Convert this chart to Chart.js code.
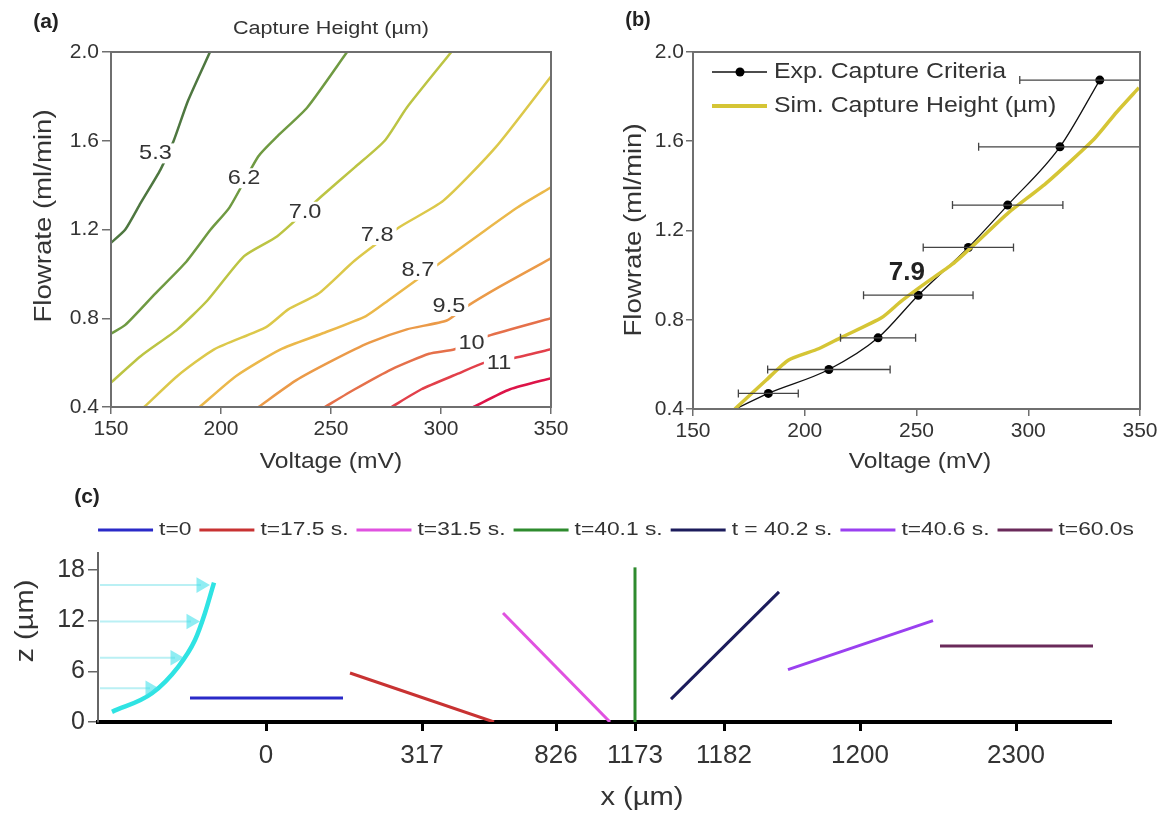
<!DOCTYPE html>
<html>
<head>
<meta charset="utf-8">
<title>Capture height</title>
<script src="https://cdn.jsdelivr.net/npm/chart.js@4.4.1/dist/chart.umd.min.js"></script>
<style>
  body { margin: 0; background: #fff; width: 1165px; height: 814px; position: relative; overflow: hidden; }
  canvas { position: absolute; }
  #panelA { left: 0; top: 0; }
  #panelB { left: 580px; top: 0; }
  #panelC { left: 0; top: 478px; }
</style>
</head>
<body>
<canvas id="panelA" width="580" height="478"></canvas>
<canvas id="panelB" width="585" height="478"></canvas>
<canvas id="panelC" width="1165" height="336"></canvas>
<script>
// ---- (a) capture height contours: [voltage mV, flowrate ml/min] ----
var contourLevels = ['5.3', '6.2', '7.0', '7.8', '8.7', '9.5', '10', '11', null];
var c53 = [[150, 1.14], [156.5, 1.20], [163.5, 1.32], [172.5, 1.47], [178.5, 1.60], [185, 1.78], [195, 2.0]];
var c62 = [[150, 0.73], [156.5, 0.77], [170, 0.91], [183.8, 1.05], [195.3, 1.20], [203.9, 1.30], [217, 1.53], [225.6, 1.62], [239.2, 1.75], [257.3, 2.0]];
var c70 = [[150, 0.51], [163.6, 0.63], [180.2, 0.75], [193.8, 0.88], [210.5, 1.08], [225.6, 1.17], [245.7, 1.35], [260.8, 1.48], [274.4, 1.60], [284.5, 1.75], [304.7, 2.0]];
var c78 = [[165.1, 0.4], [180.2, 0.54], [196.9, 0.66], [220.5, 0.76], [230.6, 0.84], [244.2, 0.91], [260.8, 1.06], [281, 1.21], [301.1, 1.33], [324.8, 1.57], [350, 1.89]];
var c87 = [[190.3, 0.4], [206.9, 0.54], [227.1, 0.66], [245.7, 0.73], [265.9, 0.81], [276, 0.88], [301.1, 1.06], [317.8, 1.18], [334.9, 1.30], [350, 1.39]];
var c95 = [[217, 0.4], [234.1, 0.52], [250.8, 0.61], [267.4, 0.69], [284.5, 0.75], [302.6, 0.79], [311.2, 0.85], [326.3, 0.94], [350, 1.07]];
var c10 = [[247.2, 0.4], [260.8, 0.48], [277.5, 0.57], [294.6, 0.64], [306.2, 0.66], [321.3, 0.72], [350, 0.80]];
var c11 = [[277.5, 0.4], [291.1, 0.48], [307.7, 0.55], [319.8, 0.60], [332.9, 0.62], [350, 0.66]];
var c12 = [[314.7, 0.4], [331.4, 0.48], [350, 0.53]];
var contourLines = [c53, c62, c70, c78, c87, c95, c10, c11, c12];
var contourLabelAt = [[170.2, 1.543], [210.5, 1.431], [238.2, 1.28], [271, 1.175], [289.5, 1.018], [303.6, 0.855], [313.9, 0.686], [326.4, 0.598]];
var contourColors = ['#4e7740', '#6f9a42', '#bcc443', '#dcc84a', '#ebb84a', '#eb9a48', '#e5704a', '#e2404a', '#dd1448'];

// ---- (b) experiment vs simulation ----
var expV   = [183.7, 210.8, 232.8, 250.8, 273.2, 290.8, 314.2, 332.0];
var expF   = [0.47, 0.577, 0.719, 0.91, 1.124, 1.314, 1.575, 1.874];
var expErr = [13.4, 27.4, 16.8, 24.5, 20.2, 24.7, 36.4, 35.8];
var fitStart = [169, 0.40];
var simV = [168.7, 182.8, 192.8, 206.2, 216.2, 234.5, 242.8, 252.8, 266.2, 276.2, 291.2, 307.8, 329.5, 339.5, 349.5];
var simF = [0.40, 0.53, 0.62, 0.67, 0.72, 0.81, 0.88, 0.955, 1.05, 1.14, 1.28, 1.41, 1.61, 1.73, 1.84];
var simLevel = [245.7, 1.009, '7.9'];

// ---- (c) particle snapshots along the channel: [position, z um] ----
var stationPos    = [16.8, 32.4, 45.8, 53.7, 62.6, 76.2, 91.8];
var stationLabels = ['0', '317', '826', '1173', '1182', '1200', '2300'];
var zTicks = [0, 6, 12, 18];
var snapLabels = ['t=0', 't=17.5 s.', 't=31.5 s.', 't=40.1 s.', 't = 40.2 s.', 't=40.6 s.', 't=60.0s'];
var snapColors = ['#2a2ac8', '#c83232', '#e052e0', '#2e8b2e', '#1c1c5c', '#9a40f0', '#6a2a5a'];
var snapLines = [
  [[9.2, 2.85], [24.5, 2.85]],
  [[25.2, 5.8], [39.6, 0]],
  [[40.5, 12.9], [51.2, 0]],
  [[53.7, 0], [53.7, 18.3]],
  [[57.3, 2.7], [68.1, 15.4]],
  [[69.0, 6.2], [83.5, 12.0]],
  [[84.2, 9.0], [99.5, 9.0]]
];
var flowProfile = [[1.4, 1.2], [5.4, 3.4], [8.0, 6.5], [9.7, 9.7], [10.7, 12.9], [11.6, 16.5]];
var arrowZ    = [16.2, 11.9, 7.6, 4.0];
var arrowTail = 0.2;
var arrowHead = [10.3, 9.3, 7.7, 5.2];

var FONT = '"Liberation Sans", Arial, Helvetica, sans-serif';
Chart.defaults.font.family = FONT;
Chart.defaults.color = '#333';
Chart.defaults.animation = false;

// text drawn with a horizontal stretch, optionally rotated
function drawText(ctx, t) {
  ctx.save();
  ctx.translate(t.x, t.y);
  if (t.rot) ctx.rotate(t.rot);
  ctx.scale(t.sx || 1, 1);
  ctx.font = t.font;
  ctx.fillStyle = t.color || '#333';
  ctx.textAlign = t.align || 'center';
  ctx.textBaseline = 'middle';
  ctx.fillText(t.text, 0, 0);
  ctx.restore();
}

function textPlugin(items) {
  return {
    id: 'panelText',
    afterDraw: function (chart) {
      items.forEach(function (t) { drawText(chart.ctx, t); });
    }
  };
}

function framePlugin(color, width) {
  return {
    id: 'frame',
    afterDatasetsDraw: function (chart) {
      var a = chart.chartArea, ctx = chart.ctx;
      ctx.save();
      ctx.strokeStyle = color;
      ctx.lineWidth = width;
      ctx.strokeRect(a.left, a.top, a.right - a.left, a.bottom - a.top);
      ctx.restore();
    }
  };
}

function axisOpts(min, max, step, size, tickLen, pad, fixed, isX) {
  return {
    type: 'linear', min: min, max: max,
    ticks: {
      stepSize: step, padding: pad, color: '#333',
      font: { size: size },
      callback: function (v) { return isX ? String(v) : v.toFixed(1); }
    },
    grid: { drawOnChartArea: false, tickLength: tickLen, color: '#6f6f6f', lineWidth: 1.5 },
    border: { color: '#6f6f6f', width: 2 },
    afterFit: function (s) { if (isX) s.height = fixed; else s.width = fixed; }
  };
}

// ---------------- panel (a) ----------------
var contourLabels = {
  id: 'contourLabels',
  afterDatasetsDraw: function (chart) {
    var ctx = chart.ctx, xs = chart.scales.x, ys = chart.scales.y;
    ctx.save();
    ctx.font = '21px ' + FONT;
    contourLabelAt.forEach(function (p, i) {
      var px = xs.getPixelForValue(p[0]), py = ys.getPixelForValue(p[1]);
      var w = ctx.measureText(contourLevels[i]).width * 1.12;
      ctx.fillStyle = '#fff';
      ctx.fillRect(px - w / 2 - 3, py - 10, w + 6, 20);
      drawText(ctx, { text: contourLevels[i], x: px, y: py, font: '21px ' + FONT, sx: 1.12 });
    });
    ctx.restore();
  }
};

new Chart(document.getElementById('panelA'), {
  type: 'line',
  data: {
    datasets: contourLines.map(function (pts, i) {
      return {
        label: contourLevels[i] || '',
        data: pts,
        borderColor: contourColors[i],
        borderWidth: 2.5,
        pointRadius: 0,
        tension: 0.2
      };
    })
  },
  options: {
    responsive: false,
    layout: { padding: { top: 52, right: 29, left: 0, bottom: 0 } },
    plugins: { legend: { display: false }, tooltip: { enabled: false } },
    scales: {
      x: axisOpts(150, 350, 50, 21, 7, 3, 478 - 407, true),
      y: axisOpts(0.4, 2.0, 0.4, 21, 9, 3, 111, false)
    }
  },
  plugins: [contourLabels, framePlugin('#6f6f6f', 2), textPlugin([
    { text: '(a)', x: 46, y: 22, font: 'bold 21px ' + FONT, color: '#222' },
    { text: 'Capture Height (\u00b5m)', x: 331, y: 29, font: '18px ' + FONT, sx: 1.2 },
    { text: 'Voltage (mV)', x: 331, y: 462, font: '22px ' + FONT, sx: 1.12 },
    { text: 'Flowrate (ml/min)', x: 45, y: 216, font: '23px ' + FONT, sx: 1.2, rot: -Math.PI / 2 }
  ])]
});

// ---------------- panel (b) ----------------
var errorBars = {
  id: 'errorBars',
  afterDatasetsDraw: function (chart) {
    var ctx = chart.ctx, xs = chart.scales.x, ys = chart.scales.y, a = chart.chartArea;
    ctx.save();
    ctx.beginPath();
    ctx.rect(a.left, a.top, a.right - a.left, a.bottom - a.top);
    ctx.clip();
    ctx.strokeStyle = '#444';
    ctx.lineWidth = 1.3;
    expV.forEach(function (v, i) {
      var y = ys.getPixelForValue(expF[i]);
      var x0 = xs.getPixelForValue(v - expErr[i]), x1 = xs.getPixelForValue(v + expErr[i]);
      ctx.beginPath();
      ctx.moveTo(x0, y); ctx.lineTo(x1, y);
      ctx.moveTo(x0, y - 4); ctx.lineTo(x0, y + 4);
      ctx.moveTo(x1, y - 4); ctx.lineTo(x1, y + 4);
      ctx.stroke();
    });
    ctx.restore();
    // the highlighted simulated level
    drawText(ctx, { text: simLevel[2], x: xs.getPixelForValue(simLevel[0]), y: ys.getPixelForValue(simLevel[1]),
      font: 'bold 26px ' + FONT, color: '#222' });
  }
};

var insideLegend = {
  id: 'insideLegend',
  afterDraw: function (chart) {
    var ctx = chart.ctx;
    var ds = chart.data.datasets;
    var rows = [[ds[1], 72, true], [ds[0], 106, false]];
    ctx.save();
    rows.forEach(function (r) {
      ctx.strokeStyle = r[0].borderColor;
      ctx.lineWidth = r[2] ? 1.5 : 4;
      ctx.beginPath(); ctx.moveTo(132, r[1]); ctx.lineTo(187, r[1]); ctx.stroke();
      if (r[2]) {
        ctx.fillStyle = '#000';
        ctx.beginPath(); ctx.arc(160, r[1], 4.5, 0, Math.PI * 2); ctx.fill();
      }
      drawText(ctx, { text: r[0].label, x: 194, y: r[1], font: '22px ' + FONT, sx: 1.13, align: 'left' });
    });
    ctx.restore();
  }
};

var expCurve = [fitStart].concat(expV.map(function (v, i) { return [v, expF[i]]; }));

new Chart(document.getElementById('panelB'), {
  type: 'line',
  data: {
    datasets: [{
      label: 'Sim. Capture Height (\u00b5m)',
      data: simV.map(function (v, i) { return [v, simF[i]]; }),
      borderColor: '#d5c535',
      borderWidth: 3.5,
      pointRadius: 0,
      tension: 0.2
    }, {
      label: 'Exp. Capture Criteria',
      data: expCurve,
      borderColor: '#111',
      borderWidth: 1.3,
      pointRadius: expCurve.map(function (p, i) { return i === 0 ? 0 : 4.5; }),
      pointBackgroundColor: '#000',
      pointBorderWidth: 0,
      cubicInterpolationMode: 'monotone'
    }]
  },
  options: {
    responsive: false,
    layout: { padding: { top: 52, right: 25, left: 0, bottom: 0 } },
    plugins: { legend: { display: false }, tooltip: { enabled: false } },
    scales: {
      x: axisOpts(150, 350, 50, 21, 7, 3, 478 - 409, true),
      y: axisOpts(0.4, 2.0, 0.4, 21, 7, 2, 113, false)
    }
  },
  plugins: [errorBars, insideLegend, framePlugin('#6f6f6f', 2), textPlugin([
    { text: '(b)', x: 58, y: 20, font: 'bold 20px ' + FONT, color: '#222' },
    { text: 'Voltage (mV)', x: 340, y: 462, font: '22px ' + FONT, sx: 1.12 },
    { text: 'Flowrate (ml/min)', x: 55, y: 230, font: '23px ' + FONT, sx: 1.2, rot: -Math.PI / 2 }
  ])]
});

// ---------------- panel (c) ----------------
var snapLegend = {
  id: 'snapLegend',
  afterDraw: function (chart) {
    var ctx = chart.ctx;
    var items = chart.data.datasets.filter(function (d) { return d.label; });
    ctx.save();
    ctx.font = '19px ' + FONT;
    var widths = items.map(function (d) { return ctx.measureText(d.label).width * 1.2; });
    var total = widths.reduce(function (s, w) { return s + 61 + w; }, 0) + 8 * (items.length - 1);
    var x = 616 - total / 2, y = 52;
    items.forEach(function (d, i) {
      ctx.strokeStyle = d.borderColor;
      ctx.lineWidth = 3;
      ctx.beginPath(); ctx.moveTo(x, y); ctx.lineTo(x + 55, y); ctx.stroke();
      x += 61;
      drawText(ctx, { text: d.label, x: x, y: y, font: '19px ' + FONT, sx: 1.2, align: 'left' });
      x += widths[i] + 8;
    });
    ctx.restore();
  }
};

var cDatasets = arrowZ.map(function (z, i) {
  return {
    data: [[arrowTail, z], [arrowHead[i], z]],
    borderColor: 'rgba(130, 228, 235, 0.55)',
    borderWidth: 2,
    pointStyle: 'triangle',
    rotation: 90,
    pointRadius: [0, 9],
    pointBackgroundColor: 'rgba(70, 225, 235, 0.6)',
    pointBorderWidth: 0
  };
});
cDatasets.push({
  data: flowProfile,
  borderColor: '#2fe3e3',
  borderWidth: 4.5,
  pointRadius: 0,
  tension: 0.4,
  cubicInterpolationMode: 'monotone'
});
snapLines.forEach(function (pts, i) {
  cDatasets.push({
    label: snapLabels[i],
    data: pts,
    borderColor: snapColors[i],
    borderWidth: 3,
    pointRadius: 0
  });
});

new Chart(document.getElementById('panelC'), {
  type: 'line',
  data: { datasets: cDatasets },
  options: {
    responsive: false,
    layout: { padding: { top: 75, right: 55, left: 0, bottom: 0 } },
    plugins: { legend: { display: false }, tooltip: { enabled: false } },
    scales: {
      x: {
        type: 'linear', min: 0, max: 101.2,
        afterBuildTicks: function (s) { s.ticks = stationPos.map(function (v) { return { value: v }; }); },
        ticks: {
          autoSkip: false, maxRotation: 0, padding: 9, color: '#333', font: { size: 26 },
          callback: function (v) { return stationLabels[stationPos.indexOf(v)]; }
        },
        grid: { drawOnChartArea: false, tickLength: 9, color: '#000', lineWidth: 3 },
        border: { color: '#000', width: 4 },
        afterFit: function (s) { s.height = 336 - 244; }
      },
      y: {
        type: 'linear', min: 0, max: 20,
        afterBuildTicks: function (s) { s.ticks = zTicks.map(function (v) { return { value: v }; }); },
        ticks: { autoSkip: false, padding: 3, color: '#333', font: { size: 25 } },
        grid: { drawOnChartArea: false, tickLength: 10, color: '#666', lineWidth: 1.5 },
        border: { color: '#666', width: 2 },
        afterFit: function (s) { s.width = 98; }
      }
    }
  },
  plugins: [snapLegend, textPlugin([
    { text: '(c)', x: 87, y: 19, font: 'bold 21px ' + FONT, color: '#222' },
    { text: 'x (\u00b5m)', x: 642, y: 320, font: '26px ' + FONT, sx: 1.12 },
    { text: 'z (\u00b5m)', x: 26, y: 143, font: '26px ' + FONT, sx: 1.12, rot: -Math.PI / 2 }
  ])]
});
</script>
</body>
</html>
